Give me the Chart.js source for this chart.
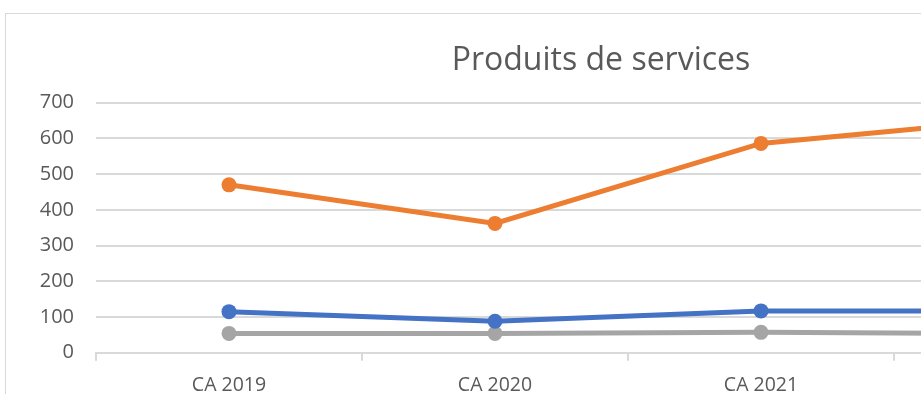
<!DOCTYPE html>
<html>
<head>
<meta charset="utf-8">
<script src="https://cdn.jsdelivr.net/npm/chart.js@4/dist/chart.umd.min.js"></script>
<style>
  html, body { margin: 0; padding: 0; background: #fff; overflow: hidden; }
  #frame {
    position: absolute;
    left: 5px;
    top: 13px;
    width: 1190px;
    height: 430px;
    border: 1px solid #d9d9d9;
  }
</style>
</head>
<body>
<div id="frame"><canvas id="chart"></canvas></div>
<script>
  const categories = ['CA 2019', 'CA 2020', 'CA 2021', 'CA 2022'];
  const seriesBlue = [115, 88, 117, 117];
  const seriesOrange = [470, 362, 586, 656];
  const seriesGray = [54, 54, 57, 53];
  const yTicks = { min: 0, max: 700, step: 100 };

  const textColor = '#595959';
  const gridColor = '#d9d9d9';
  const font = 'Open Sans';

  function series(label, data, color, order) {
    return {
      label,
      data,
      borderColor: color,
      backgroundColor: color,
      borderWidth: 5,
      pointRadius: 7.5,
      pointHoverRadius: 7.5,
      pointBorderWidth: 0,
      pointBackgroundColor: color,
      tension: 0,
      order
    };
  }

  new Chart(document.getElementById('chart'), {
    type: 'line',
    data: {
      labels: categories,
      datasets: [
        series('Série 1', seriesBlue, '#4472c4', 1),
        series('Série 2', seriesOrange, '#ed7d31', 2),
        series('Série 3', seriesGray, '#a5a5a5', 3)
      ]
    },
    options: {
      responsive: true,
      maintainAspectRatio: false,
      animation: false,
      layout: { padding: 0 },
      plugins: {
        legend: { display: false },
        tooltip: { enabled: false },
        title: {
          display: true,
          text: 'Produits de services',
          color: textColor,
          font: { family: font, size: 32, weight: 'normal', lineHeight: 1.2 },
          padding: { top: 28, bottom: 22.3 }
        }
      },
      scales: {
        x: {
          offset: true,
          grid: {
            display: true,
            offset: true,
            drawOnChartArea: false,
            drawTicks: true,
            tickLength: 8,
            color: gridColor,
            lineWidth: 2
          },
          border: { display: true, color: gridColor, width: 2 },
          ticks: {
            color: textColor,
            padding: 12.7,
            maxRotation: 0,
            autoSkip: false,
            font: { family: font, size: 19.5, lineHeight: 1.2 }
          },
          afterFit(scale) { scale.height = 91.3; }
        },
        y: {
          min: yTicks.min,
          max: yTicks.max,
          grid: { color: gridColor, lineWidth: 2, drawTicks: false },
          border: { display: false },
          ticks: {
            stepSize: yTicks.step,
            color: textColor,
            padding: 22,
            font: { family: font, size: 20 }
          },
          afterFit(scale) { scale.width = 90; }
        },
        // empty right-hand margin of the plot frame
        yRight: {
          position: 'right',
          min: yTicks.min,
          max: yTicks.max,
          grid: { display: false },
          border: { display: false },
          ticks: { display: false },
          afterFit(scale) { scale.width = 36; }
        }
      }
    }
  });
</script>
</body>
</html>
